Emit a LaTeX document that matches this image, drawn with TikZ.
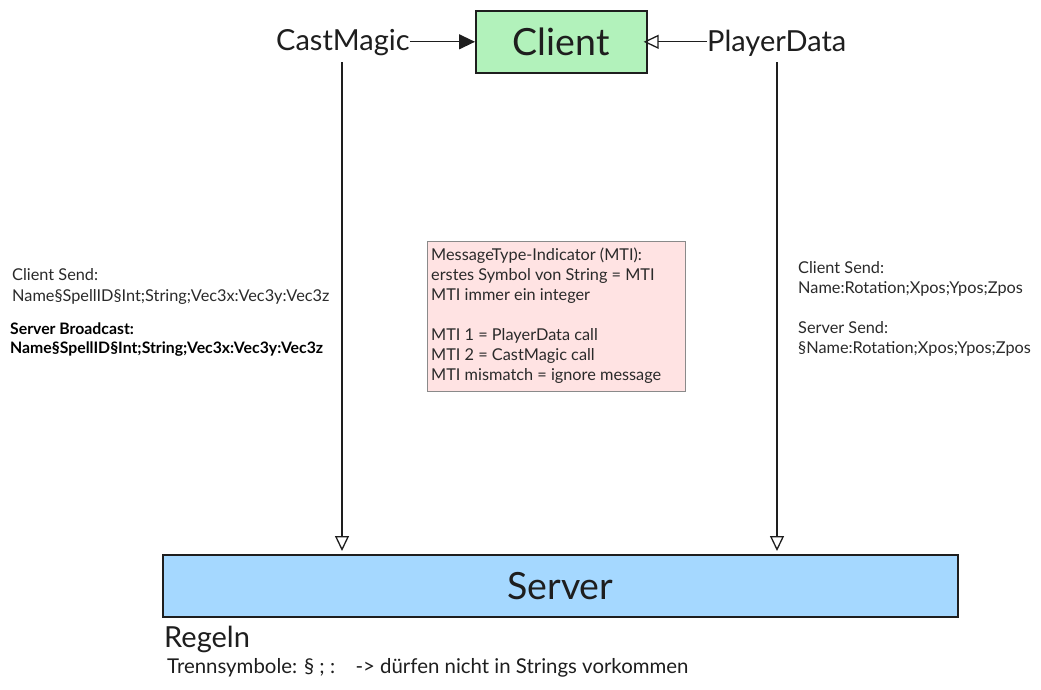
\documentclass[tikz,border=0pt]{standalone}
\usepackage{fontspec}
\setmainfont{Lato}
\usetikzlibrary{arrows.meta}
\definecolor{ink}{HTML}{1E1E1E}
\definecolor{clientfill}{HTML}{B2F2BB}
\definecolor{serverfill}{HTML}{A5D8FF}
\definecolor{notefill}{HTML}{FFE3E3}
\definecolor{noteline}{HTML}{8A8A8A}
\definecolor{txt}{HTML}{2A2A2A}
\begin{document}
\begin{tikzpicture}[x=1pt,y=-1pt,
  box/.style={draw=ink,line width=1.6pt,inner sep=0pt,anchor=north west},
  big/.style={font=\fontsize{37.5}{40}\selectfont,text=ink},
  label/.style={font=\fontsize{29}{32}\selectfont,text=ink,inner sep=0pt},
  small/.style={font=\fontsize{16.3}{20}\selectfont,text=txt,align=left,inner sep=0pt,anchor=north west},
  con/.style={draw=ink,line width=1.3pt},
  filledhead/.style={-{Triangle[length=16pt,width=15pt]}},
  openhead/.style={-{Triangle[open,length=15pt,width=14pt,line width=1.3pt]}}
]
\useasboundingbox (0,0) rectangle (1041,689);
\fill[white] (0,0) rectangle (1041,689);

\node[box,fill=clientfill,minimum width=171pt,minimum height=62pt] (client) at (475,10) {};
\node[big] (clienttxt) at (client.center) {Client};

\node[box,fill=serverfill,minimum width=795pt,minimum height=62pt] (server) at (162,554) {};
\node[big] (servertxt) at (server.center) {Server};

\node[label,anchor=west] (cast) at (276,43) {CastMagic};
\node[label,anchor=west] (player) at (707,43) {PlayerData};

\coordinate (castdown) at (342,62);
\coordinate (castend) at (342,551);
\coordinate (playerdown) at (777,62);
\coordinate (playerend) at (777,551);

\draw[con,filledhead] (cast.east |- client.west) -- (client.west);
\draw[con,openhead] (player.west |- client.east) -- ([xshift=-4pt]client.east);
\draw[con,openhead] (castdown) -- (castend);
\draw[con,openhead] (playerdown) -- (playerend);

\node[draw=noteline,line width=1.3pt,fill=notefill,minimum width=258pt,minimum height=150pt,anchor=north west,inner sep=0pt] (note) at (427,241) {};
\node[small] (notetxt) at (431,248) {MessageType-Indicator (MTI):\\erstes Symbol von String = MTI\\MTI immer ein integer\\[20pt]MTI 1 = PlayerData call\\MTI 2 = CastMagic call\\MTI mismatch = ignore message};

\node[small,font=\fontsize{16.3}{21}\selectfont] (leftsend) at (12,268) {Client Send:\\Name§SpellID§Int;String;Vec3x:Vec3y:Vec3z};
\node[small,font=\fontsize{15.8}{19}\selectfont\bfseries,text=black] (leftbc) at (10,323) {Server Broadcast:\\Name§SpellID§Int;String;Vec3x:Vec3y:Vec3z};

\node[small] (rightsend) at (798,261) {Client Send:\\Name:Rotation;Xpos;Ypos;Zpos\\[20pt]Server Send:\\§Name:Rotation;Xpos;Ypos;Zpos};

\node[font=\fontsize{29}{32}\selectfont,text=ink,inner sep=0pt,anchor=west] (regeln) at (164,639) {Regeln};
\node[font=\fontsize{20.4}{22}\selectfont,text=ink,inner sep=0pt,anchor=west] (trenn) at (167,668) {Trennsymbole: § ; :\quad -> dürfen nicht in Strings vorkommen};
\end{tikzpicture}
\end{document}
